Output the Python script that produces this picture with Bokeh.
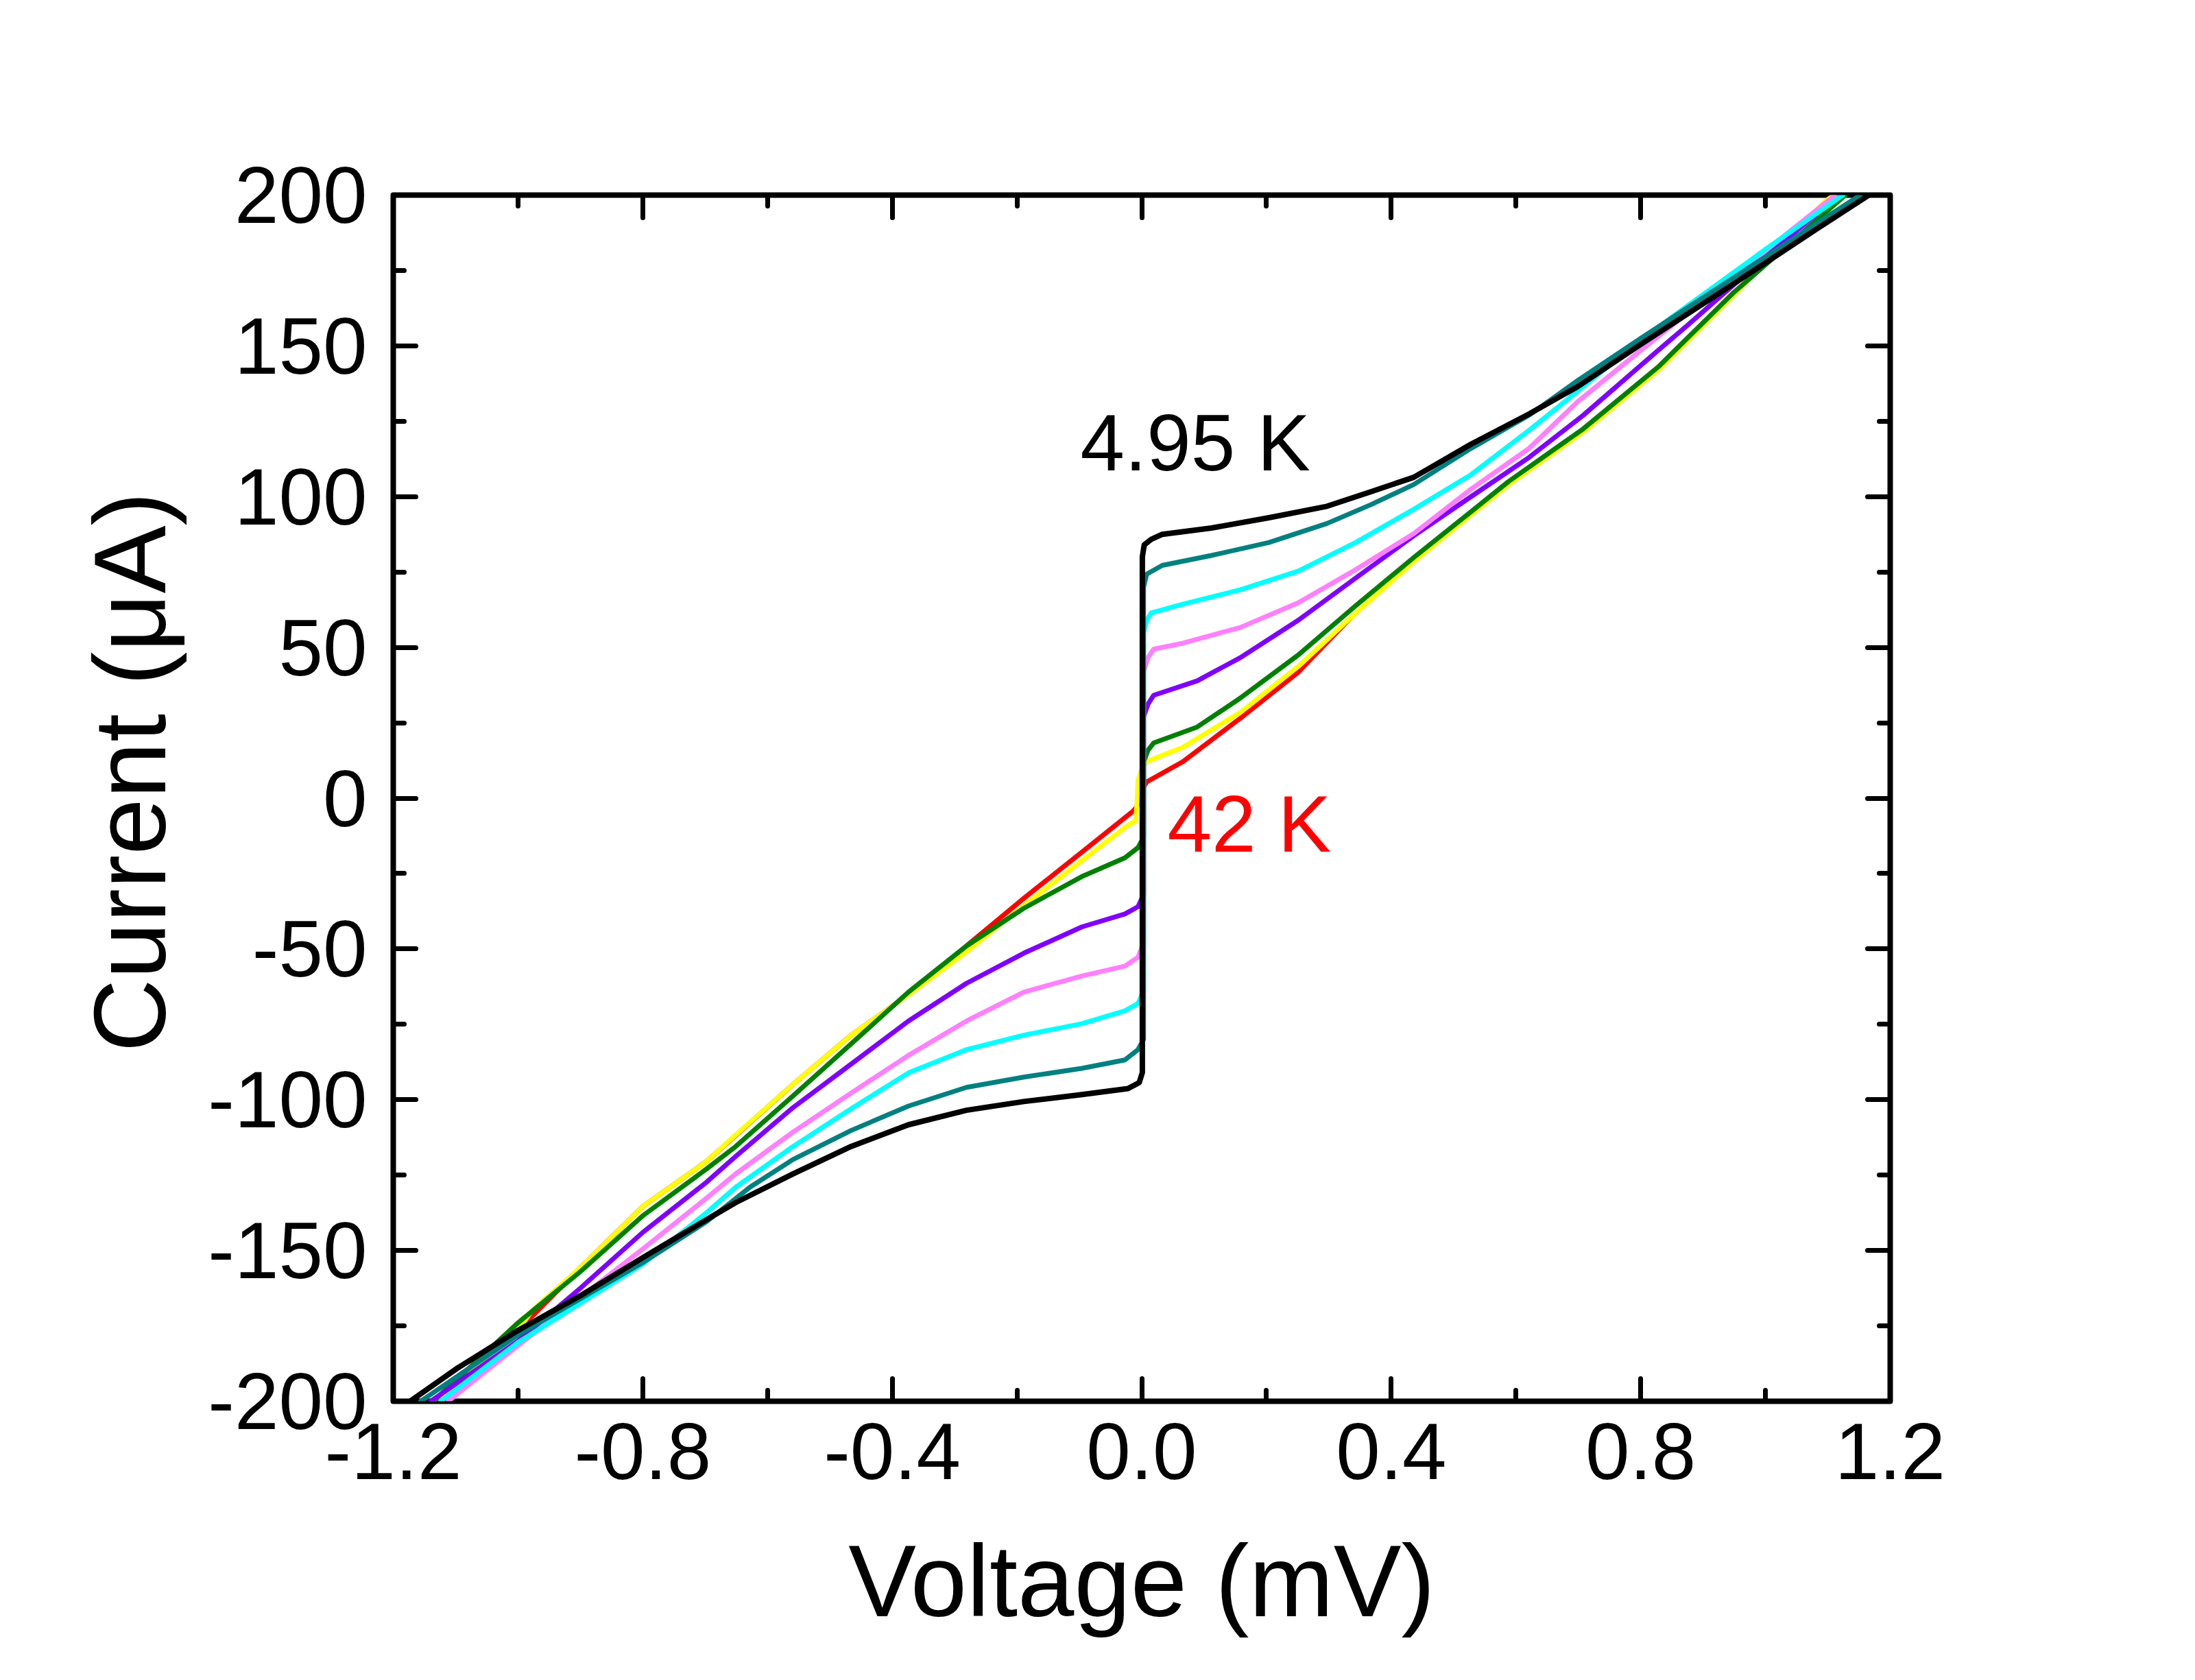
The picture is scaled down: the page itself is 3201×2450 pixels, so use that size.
from bokeh.plotting import figure
from bokeh.models import FixedTicker, LinearAxis, Label, Range1d, CustomJSTickFormatter, Title
from bokeh.embed import file_html
from bokeh.resources import INLINE

# ---------------- data ----------------
x_ticks = [-1.2, -0.8, -0.4, 0.0, 0.4, 0.8, 1.2]
x_tick_labels = ["-1.2", "-0.8", "-0.4", "0.0", "0.4", "0.8", "1.2"]
x_minor = [-1.0, -0.6, -0.2, 0.2, 0.6, 1.0]
y_ticks = [-200, -150, -100, -50, 0, 50, 100, 150, 200]
y_tick_labels = ["-200", "-150", "-100", "-50", "0", "50", "100", "150", "200"]
y_minor = [-175, -125, -75, -25, 25, 75, 125, 175]

# 42 K (red)
red_v = [-1.136, -1.0, -0.9, -0.8, -0.698, -0.559, -0.466, -0.4, -0.327, -0.281,
         -0.189, -0.096, -0.015, -0.008, 0.004, 0.008, 0.066, 0.158, 0.251, 0.336]
red_i = [-200, -176.5, -155.7, -135.4, -120.5, -94.9, -78.6, -69, -57.6, -49,
         -33.2, -17.9, -4.5, -3, 4, 5.4, 12.1, 26.5, 41.8, 60]

yellow_v = [-1.136, -1.0, -0.978, -0.9, -0.8, -0.698, -0.651, -0.559, -0.466, -0.374,
            -0.281, -0.189, -0.096, -0.027, -0.010, -0.008, -0.006, 0.0, 0.008, 0.066,
            0.158, 0.251, 0.343, 0.436, 0.528, 0.588, 0.708, 0.828, 0.948, 1.096, 1.11]
yellow_i = [-200, -176.5, -170, -155.7, -135.4, -120.5, -111.7, -94.9, -78.6, -65.2,
            -50.9, -35.6, -20.7, -9.7, -7.5, -3, 6, 9.5, 12.1, 16.9,
            28.4, 43.7, 61.4, 78.5, 94, 104, 121.5, 142, 166.5, 198, 200]

green_v = [-1.136, -1.0, -0.9, -0.8, -0.698, -0.651, -0.559, -0.466, -0.374, -0.281,
           -0.189, -0.096, -0.027, -0.006, 0.003, 0.003, 0.010, 0.019, 0.089, 0.158,
           0.251, 0.343, 0.436, 0.528, 0.588, 0.708, 0.828, 0.948, 1.128]
green_i = [-200, -174, -157, -138.5, -123, -115.5, -98.7, -81.5, -64.3, -49,
           -36.5, -26, -19.8, -16.4, -13, 12, 15.9, 18.3, 23.6, 33.2,
           47.5, 63.8, 79.8, 95, 105, 122.5, 143, 167.5, 200]

purple_v = [-1.14, -1.0, -0.9, -0.8, -0.698, -0.651, -0.559, -0.466, -0.374, -0.281,
            -0.189, -0.096, -0.027, -0.006, 0.003, 0.003, 0.010, 0.019, 0.089, 0.158,
            0.251, 0.343, 0.436, 0.528, 0.621, 0.708, 0.828, 0.876, 1.0, 1.118]
purple_i = [-200, -180, -162.5, -144, -127.4, -118.8, -102.6, -88.2, -73.9, -61.4,
            -51.4, -42.7, -38.4, -36, -32, 27, 31.2, 34.1, 38.9, 46.6,
            59, 73, 87, 100, 113, 127, 148.5, 157, 179.5, 200]

pink_v = [-1.112, -1.0, -0.9, -0.8, -0.698, -0.651, -0.559, -0.466, -0.374, -0.281,
          -0.189, -0.096, -0.027, -0.006, 0.003, 0.003, 0.010, 0.019, 0.066, 0.158,
          0.251, 0.343, 0.436, 0.528, 0.621, 0.699, 0.8, 0.9, 1.0, 1.112]
pink_i = [-200, -181.5, -165.5, -149.5, -132.7, -124.6, -110.7, -97.8, -85.3, -73.9,
          -64.3, -59, -55.7, -52.8, -48, 42, 46.6, 49.4, 51.4, 56.6,
          64.8, 75.8, 87.7, 102.5, 116, 131.5, 148.5, 165, 181.5, 200]

cyan_v = [-1.124, -1.0, -0.9, -0.8, -0.698, -0.651, -0.559, -0.466, -0.374, -0.281,
          -0.189, -0.096, -0.027, -0.006, 0.003, 0.003, 0.008, 0.015, 0.066, 0.158,
          0.251, 0.343, 0.436, 0.528, 0.621, 0.699, 0.8, 0.9, 1.0, 1.124]
cyan_i = [-200, -180.5, -167.5, -154.5, -137.5, -129, -115.5, -103, -91.1, -83.4,
          -78.6, -74.8, -70.5, -68.1, -64, 55, 59, 61.4, 64.3, 69.1,
          75.3, 84.8, 95.8, 107.3, 122, 135, 152, 167, 182, 200]

teal_v = [-1.156, -1.0, -0.9, -0.8, -0.698, -0.628, -0.559, -0.466, -0.374, -0.281,
          -0.189, -0.096, -0.027, -0.006, 0.003, 0.003, 0.008, 0.033, 0.112, 0.204,
          0.297, 0.367, 0.436, 0.528, 0.621, 0.699, 0.8, 0.9, 1.0, 1.152]
teal_i = [-200, -178, -166, -154, -140.5, -129, -119.8, -110.2, -102.1, -95.9,
          -92.5, -89.6, -86.8, -83.4, -80, 70, 74.3, 77.2, 80.5, 84.8,
          91.1, 97.3, 104, 116, 127, 138.5, 152.5, 166, 179.5, 200]

# 4.95 K (black)
black_v = [-1.173, -1.097, -1.0, -0.9, -0.8, -0.698, -0.651, -0.559, -0.466, -0.374,
           -0.281, -0.189, -0.096, -0.022, -0.004, 0.001, 0.001, 0.004, 0.015, 0.033,
           0.112, 0.204, 0.297, 0.367, 0.436, 0.528, 0.621, 0.699, 0.8, 0.9,
           1.0, 1.08, 1.166]
black_i = [-200, -189, -176.5, -165, -152.4, -139.8, -134.1, -124.6, -115.5, -108.3,
           -103.5, -100.6, -98.3, -96.3, -94.3, -91, 80, 84, 85.8, 87.5,
           89.6, 93, 96.8, 101.6, 106.4, 117.4, 127.4, 136.5, 150.5, 164,
           177.5, 188.5, 200]

series = [
    (red_v, red_i, "#FF0000", 7),
    (yellow_v, yellow_i, "#FFFF00", 7),
    (green_v, green_i, "#008000", 7),
    (purple_v, purple_i, "#8000FF", 7),
    (pink_v, pink_i, "#FF80FF", 7),
    (cyan_v, cyan_i, "#00FFFF", 7),
    (teal_v, teal_i, "#008080", 7),
    (black_v, black_i, "#000000", 8),
]

FONT = "Liberation Sans"

p = figure(width=3185, height=2434, output_backend="svg", toolbar_location=None,
           x_range=Range1d(-1.2, 1.2), y_range=Range1d(-200, 200),
           min_border_left=573, min_border_right=429,
           min_border_top=284, min_border_bottom=391,
           x_axis_label="Voltage (mV)")
p.grid.visible = False
p.background_fill_color = "white"
p.border_fill_color = "white"
p.outline_line_color = "black"
p.outline_line_width = 8
p.outline_line_join = "round"

for v, i, c, w in series:
    p.line(v, i, line_color=c, line_width=w, line_join="round", line_cap="round")

xa = p.below[0]
ya = p.left[0]

xt = FixedTicker(ticks=x_ticks, minor_ticks=x_minor)
yt = FixedTicker(ticks=y_ticks, minor_ticks=y_minor)
blank = CustomJSTickFormatter(code="return '';")

top_ax = LinearAxis(ticker=xt, formatter=blank)
right_ax = LinearAxis(ticker=yt, formatter=blank)
p.add_layout(top_ax, "above")
p.add_layout(right_ax, "right")

xa.ticker = xt
ya.ticker = yt

for ax in [xa, ya, top_ax, right_ax]:
    ax.axis_line_color = None
    ax.major_tick_in = 33
    ax.major_tick_out = 0
    ax.minor_tick_in = 16
    ax.minor_tick_out = 0
    ax.major_tick_line_width = 7
    ax.minor_tick_line_width = 7
    ax.major_tick_line_cap = "round"
    ax.minor_tick_line_cap = "round"
    ax.major_tick_line_color = "black"
    ax.minor_tick_line_color = "black"
    ax.major_label_text_font = FONT
    ax.major_label_text_font_size = "116px"
    ax.major_label_text_color = "black"
    ax.axis_label_text_font = FONT
    ax.axis_label_text_font_size = "148px"
    ax.axis_label_text_font_style = "normal"
    ax.axis_label_text_color = "black"

for ax in [top_ax, right_ax]:
    ax.major_label_standoff = 0

xa.major_label_overrides = {t: s for t, s in zip(x_ticks, x_tick_labels)}
ya.major_label_overrides = {t: s for t, s in zip(y_ticks, y_tick_labels)}
xa.major_label_standoff = 32
ya.major_label_standoff = 38
xa.axis_label_standoff = 63

# y-axis title, sitting slightly above the frame centre as in the reference
ytitle = Title(text="Current (\u03bcA)", align="left", offset=509, standoff=58,
               text_font=FONT, text_font_size="148px", text_font_style="normal",
               text_color="black")
p.add_layout(ytitle, "left")

p.add_layout(Label(x=-0.0984, y=117.8, text="4.95 K", text_font=FONT,
                   text_font_size="116px", text_color="black",
                   text_baseline="alphabetic", text_align="left"))
p.add_layout(Label(x=0.0412, y=-8.6, text="42 K", text_font=FONT,
                   text_font_size="116px", text_color="#FF0000",
                   text_baseline="alphabetic", text_align="left"))

open("out.html", "w").write(file_html(p, INLINE))
